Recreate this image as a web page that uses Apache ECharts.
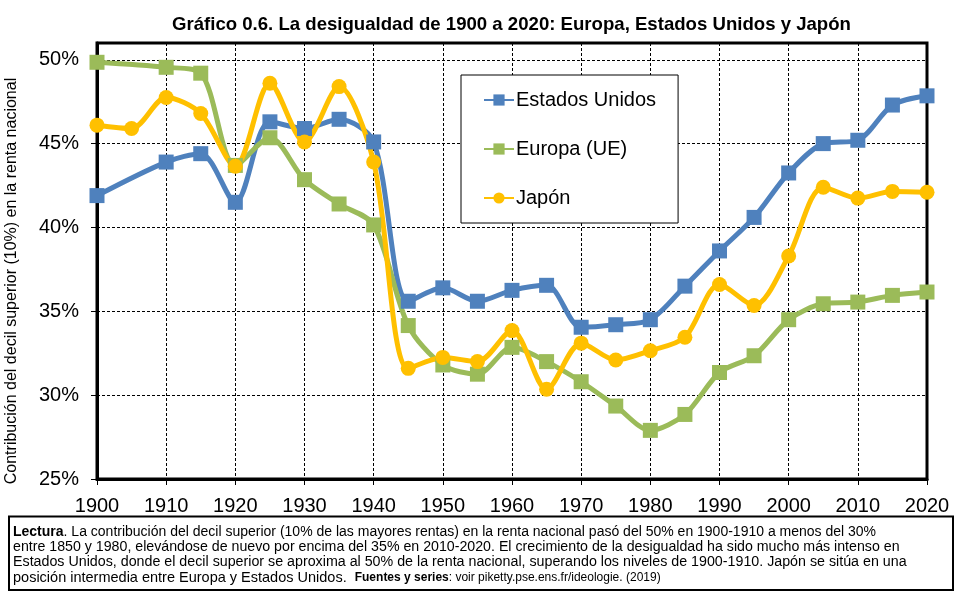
<!DOCTYPE html>
<html>
<head>
<meta charset="utf-8">
<script src="https://cdn.jsdelivr.net/npm/echarts@6/dist/echarts.min.js"></script>
<style>
html,body{margin:0;padding:0;background:#fff;}
#chart{width:959px;height:594px;}
</style>
</head>
<body>
<div id="chart"></div>
<script>
// ---- data ----
const titleText = 'Gráfico 0.6. La desigualdad de 1900 a 2020: Europa, Estados Unidos y Japón';
const yAxisName = 'Contribución del decil superior (10%) en la renta nacional';
const seriesNames = ['Estados Unidos', 'Europa (UE)', 'Japón'];

const usYears = [1900, 1910, 1915, 1920, 1925, 1930, 1935, 1940, 1945, 1950, 1955, 1960, 1965, 1970, 1975, 1980, 1985, 1990, 1995, 2000, 2005, 2010, 2015, 2020];
const usValues = [41.9, 43.9, 44.4, 41.5, 46.3, 45.9, 46.45, 45.1, 35.6, 36.4, 35.6, 36.25, 36.55, 34.05, 34.2, 34.5, 36.5, 38.6, 40.6, 43.25, 45.0, 45.2, 47.3, 47.85];

const euYears = [1900, 1910, 1915, 1920, 1925, 1930, 1935, 1940, 1945, 1950, 1955, 1960, 1965, 1970, 1975, 1980, 1985, 1990, 1995, 2000, 2005, 2010, 2015, 2020];
const euValues = [49.85, 49.55, 49.2, 43.7, 45.35, 42.85, 41.4, 40.15, 34.15, 31.8, 31.25, 32.85, 32.0, 30.8, 29.35, 27.9, 28.85, 31.35, 32.35, 34.5, 35.45, 35.55, 35.95, 36.15];

const jpYears = [1900, 1905, 1910, 1915, 1920, 1925, 1930, 1935, 1940, 1945, 1950, 1955, 1960, 1965, 1970, 1975, 1980, 1985, 1990, 1995, 2000, 2005, 2010, 2015, 2020];
const jpValues = [46.1, 45.9, 47.75, 46.8, 43.65, 48.6, 45.1, 48.4, 43.9, 31.6, 32.25, 32.0, 33.85, 30.35, 33.1, 32.1, 32.65, 33.45, 36.6, 35.35, 38.3, 42.4, 41.75, 42.15, 42.1];

const xTicks = [1900, 1910, 1920, 1930, 1940, 1950, 1960, 1970, 1980, 1990, 2000, 2010, 2020];
const yTicks = [25, 30, 35, 40, 45, 50];

const noteLines = [
  [{b: 'Lectura'}, {r: '. La contribución del decil superior (10% de las mayores rentas) en la renta nacional pasó del 50% en 1900-1910 a menos del 30%'}],
  [{r: 'entre 1850 y 1980, elevándose de nuevo por encima del 35% en 2010-2020. El crecimiento de la desigualdad ha sido mucho más intenso en'}],
  [{r: 'Estados Unidos, donde el decil superior se aproxima al 50% de la renta nacional, superando los niveles de 1900-1910. Japón se sitúa en una'}],
  [{r: 'posición intermedia entre Europa y Estados Unidos. '}, {sb: 'Fuentes y series'}, {s: ': voir piketty.pse.ens.fr/ideologie. (2019)'}]
];

// ---- build ----
const colors = ['#4F81BD', '#9BBB59', '#FFC000'];
const pair = (xs, ys) => xs.map((x, i) => [x, ys[i]]);
const FONT = 'Arial, "Liberation Sans", sans-serif';
const lineSizes = [14, 14.2, 14.25, 14.5];

const chart = echarts.init(document.getElementById('chart'), null, {renderer: 'canvas'});

function mkSeries(name, data, color, symbol) {
  return {
    name: name,
    type: 'line',
    data: data,
    smooth: 0.3,
    symbol: symbol,
    symbolSize: 15,
    showAllSymbol: true,
    lineStyle: {color: color, width: 5},
    itemStyle: {color: color, borderWidth: 0},
    emphasis: {disabled: true},
    animation: false
  };
}

const noteGraphics = noteLines.map((parts, i) => {
  const txt = parts.map(p => {
    const k = Object.keys(p)[0];
    return '{' + k + '|' + p[k] + '}';
  }).join('');
  const fs = lineSizes[i];
  return {
    type: 'text',
    left: 13,
    top: 525 + i * 15,
    style: {
      text: txt,
      fill: '#000',
      rich: {
        b: {fontFamily: FONT, fontSize: fs, fontWeight: 'bold', fill: '#000'},
        r: {fontFamily: FONT, fontSize: fs, fill: '#000'},
        sb: {fontFamily: FONT, fontSize: 12, fontWeight: 'bold', fill: '#000', padding: [0, 0, 0, 4]},
        s: {fontFamily: FONT, fontSize: 12, fill: '#000'}
      }
    },
    z: 10
  };
});

const option = {
  backgroundColor: '#fff',
  animation: false,
  title: {
    text: titleText,
    left: 167,
    top: 10,
    textStyle: {fontFamily: FONT, fontSize: 18.6, fontWeight: 'bold', color: '#000'}
  },
  legend: {
    orient: 'vertical',
    left: 461,
    top: 75,
    padding: [15, 22, 15, 22],
    itemGap: 29,
    itemWidth: 30,
    itemHeight: 14,
    borderColor: '#000',
    borderWidth: 1,
    backgroundColor: '#fff',
    textStyle: {fontFamily: FONT, fontSize: 20, color: '#000', padding: [0, 0, 0, -3]},
    data: seriesNames
  },
  grid: {
    left: 97,
    right: 32,
    top: 43,
    bottom: 115,
    show: true,
    borderColor: '#000',
    borderWidth: 3,
    containLabel: false,
    outerBoundsMode: 'none'
  },
  xAxis: {
    type: 'value',
    min: xTicks[0],
    max: xTicks[xTicks.length - 1],
    interval: 10,
    axisLine: {show: true, lineStyle: {color: '#000', width: 3}},
    axisTick: {show: true, length: 6, lineStyle: {color: '#000', width: 1}},
    axisLabel: {
      fontFamily: FONT, fontSize: 20, color: '#000', margin: 17,
      formatter: v => String(v)
    },
    splitLine: {show: true, lineStyle: {color: '#000', width: 1, type: [3, 2]}}
  },
  yAxis: {
    type: 'value',
    min: yTicks[0],
    max: 51,
    interval: 5,
    axisLine: {show: true, lineStyle: {color: '#000', width: 3}},
    axisTick: {show: true, length: 6, lineStyle: {color: '#000', width: 1}},
    axisLabel: {
      fontFamily: FONT, fontSize: 20, color: '#000', margin: 18,
      showMaxLabel: false,
      formatter: v => (yTicks.indexOf(v) >= 0 ? v + '%' : '')
    },
    splitLine: {show: true, lineStyle: {color: '#000', width: 1, type: [3, 2]}}
  },
  graphic: [
    {
      type: 'text',
      x: 12,
      y: 281,
      rotation: Math.PI / 2,
      style: {
        text: yAxisName,
        fontFamily: FONT,
        fontSize: 16,
        fill: '#000',
        align: 'center',
        verticalAlign: 'middle'
      }
    },
    {
      type: 'rect',
      shape: {x: 9, y: 516.5, width: 944, height: 73.5},
      style: {fill: '#fff', stroke: '#000', lineWidth: 2},
      z: 5
    }
  ].concat(noteGraphics),
  series: [
    mkSeries(seriesNames[0], pair(usYears, usValues), colors[0], 'rect'),
    mkSeries(seriesNames[1], pair(euYears, euValues), colors[1], 'rect'),
    mkSeries(seriesNames[2], pair(jpYears, jpValues), colors[2], 'circle')
  ]
};

chart.setOption(option);
</script>
</body>
</html>
